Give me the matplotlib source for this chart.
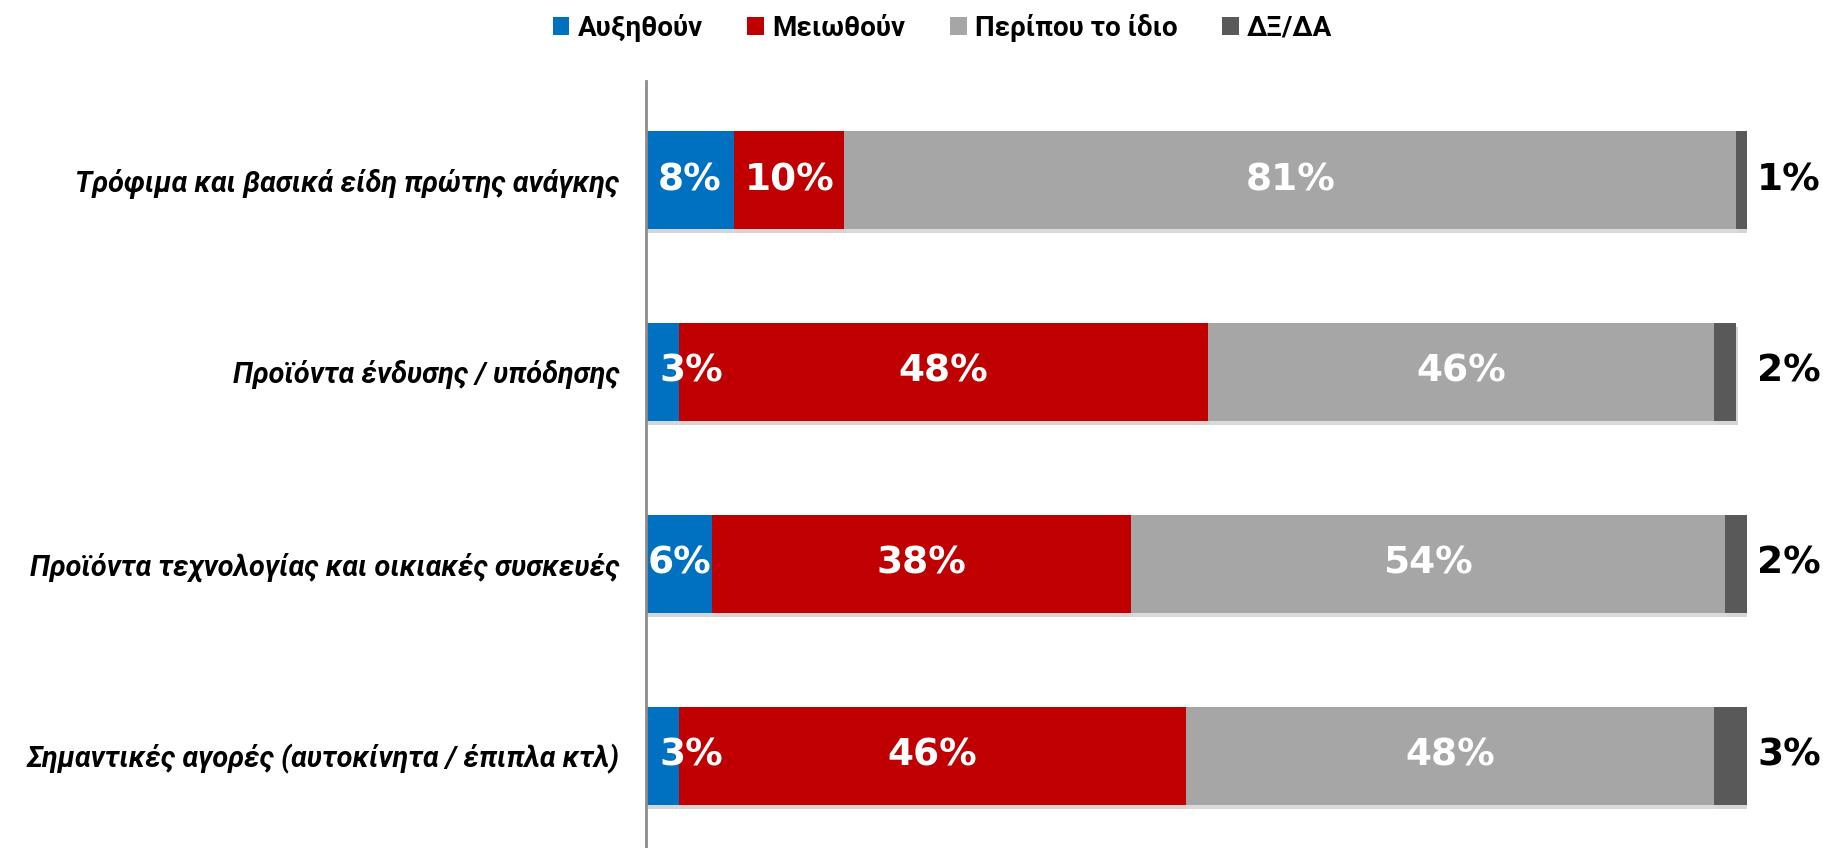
import matplotlib.pyplot as plt
import matplotlib.patheffects as pe

categories = [
    "Τρόφιμα και βασικά είδη πρώτης ανάγκης",
    "Προϊόντα ένδυσης / υπόδησης",
    "Προϊόντα τεχνολογίας και οικιακές συσκευές",
    "Σημαντικές αγορές (αυτοκίνητα / έπιπλα κτλ)",
]
series_names = ["Αυξηθούν", "Μειωθούν", "Περίπου το ίδιο", "ΔΞ/ΔΑ"]
increase = [8, 3, 6, 3]
decrease = [10, 48, 38, 46]
same = [81, 46, 54, 48]
dont_know = [1, 2, 2, 3]

colors = ["#0070C0", "#C00000", "#A6A6A6", "#595959"]

fig = plt.figure(figsize=(18.23, 8.48), dpi=100)
ax = fig.add_axes([0.3544, 0.0, 0.604, 0.9045])

ypos = list(range(len(categories)))
left = [0] * len(categories)
all_bars = []
val_font = dict(fontsize=27, fontweight="bold", family="DejaVu Sans")
for name, vals, col in zip(series_names, [increase, decrease, same, dont_know], colors):
    bars = ax.barh(ypos, vals, left=left, height=0.51, color=col, label=name,
                   linewidth=0)
    all_bars.extend(bars)
    for i, v in enumerate(vals):
        if name == "ΔΞ/ΔΑ":
            ax.text(103.8, i, f"{v}%", ha="center", va="center", color="black", **val_font)
        elif v < 5:
            ax.text(left[i] + 1.2, i, f"{v}%", ha="left", va="center", color="white", **val_font)
        else:
            ax.text(left[i] + v / 2, i, f"{v}%", ha="center", va="center", color="white", **val_font)
    left = [l + v for l, v in zip(left, vals)]

ax.set_xlim(0, 100)
ax.set_ylim(3.48, -0.516)
ax.set_yticks(ypos)
ax.set_yticklabels(categories, fontsize=20.8, fontweight="bold", style="italic",
                   family="Roboto")
ax.tick_params(axis="y", length=0, pad=19)
ax.set_xticks([])
for s in ["top", "right", "bottom"]:
    ax.spines[s].set_visible(False)
ax.spines["left"].set_color("#8C8C8C")
ax.spines["left"].set_linewidth(2)

fig.legend(*ax.get_legend_handles_labels(), loc="center", bbox_to_anchor=(0.517, 0.967),
           ncol=4, frameon=False, handlelength=0.6, handleheight=0.6, handletextpad=0.3,
           columnspacing=1.6, prop={"family": "Roboto", "weight": "bold", "size": 20})

# soft shadow under the bars, added after the legend so its keys stay flat
for b in all_bars:
    b.set_path_effects([pe.SimplePatchShadow(offset=(1.5, -3), alpha=0.18), pe.Normal()])

fig.savefig("out.png", dpi=100)
